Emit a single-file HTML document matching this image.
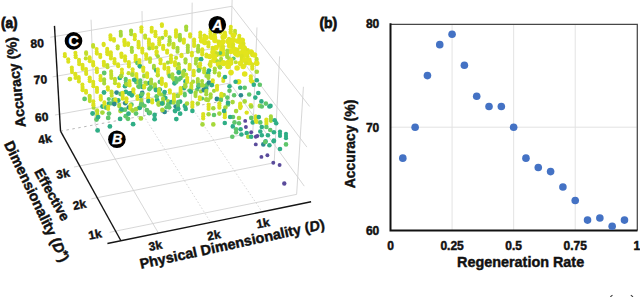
<!DOCTYPE html>
<html><head><meta charset="utf-8"><style>
html,body{margin:0;padding:0;background:#fff;width:640px;height:297px;overflow:hidden}
svg{display:block}
</style></head><body>
<svg width="640" height="297" viewBox="0 0 640 297">
<rect width="640" height="297" fill="#fff"/>
<g shape-rendering="geometricPrecision">
<polyline points="54.95,115.04 229.89,83.05" stroke="#d2d2d2" stroke-width="0.9" fill="none" />
<polyline points="52.66,76.88 230.91,45.37" stroke="#d2d2d2" stroke-width="0.9" fill="none" />
<polyline points="50.29,37.25 231.96,6.28" stroke="#d2d2d2" stroke-width="0.9" fill="none" />
<polyline points="95.23,124.71 91.04,19.71" stroke="#d2d2d2" stroke-width="0.9" fill="none" />
<polyline points="143.64,115.73 142.01,11.10" stroke="#d2d2d2" stroke-width="0.9" fill="none" />
<polyline points="191.31,106.88 192.16,2.64" stroke="#d2d2d2" stroke-width="0.9" fill="none" />
<polyline points="229.44,99.81 232.24,-4.13" stroke="#d2d2d2" stroke-width="0.9" fill="none" />
<polyline points="229.89,83.05 304.25,186.12" stroke="#d2d2d2" stroke-width="0.9" fill="none" />
<polyline points="230.91,45.37 306.86,147.08" stroke="#d2d2d2" stroke-width="0.9" fill="none" />
<polyline points="231.96,6.28 309.58,106.43" stroke="#d2d2d2" stroke-width="0.9" fill="none" />
<polyline points="252.84,132.75 256.97,27.46" stroke="#d2d2d2" stroke-width="0.9" fill="none" />
<polyline points="274.19,162.78 279.59,56.35" stroke="#d2d2d2" stroke-width="0.9" fill="none" />
<polyline points="296.63,194.36 303.43,86.81" stroke="#d2d2d2" stroke-width="0.9" fill="none" />
<polyline points="73.99,167.02 252.84,132.75" stroke="#d2d2d2" stroke-width="0.9" fill="none" />
<polyline points="91.36,198.84 274.19,162.78" stroke="#d2d2d2" stroke-width="0.9" fill="none" />
<polyline points="109.65,232.34 296.63,194.36" stroke="#d2d2d2" stroke-width="0.9" fill="none" />
<polyline points="60.52,131.16 229.44,99.81" stroke="#b0b0b0" stroke-width="0.9" fill="none" stroke-dasharray="2.5,3.5"/>
<polyline points="95.23,124.71 158.43,233.08" stroke="#d2d2d2" stroke-width="0.9" fill="none" />
<polyline points="143.64,115.73 210.68,222.38" stroke="#d2d2d2" stroke-width="0.9" fill="none" stroke-dasharray="1.5,2"/>
<polyline points="191.31,106.88 262.06,211.85" stroke="#d2d2d2" stroke-width="0.9" fill="none" stroke-dasharray="1.5,2"/>
<polyline points="60.52,131.16 54.47,25.88" stroke="#151515" stroke-width="1.4" fill="none" />
<polyline points="60.52,131.16 120.92,240.76" stroke="#151515" stroke-width="1.4" fill="none" />
<polyline points="107.43,243.52 311.09,201.81" stroke="#151515" stroke-width="1.4" fill="none" />
</g>
<g>
<circle cx="110.4" cy="35.4" r="2.05" fill="#dbe21f"/>
<circle cx="110.5" cy="37.5" r="2.05" fill="#dbe21f"/>
<circle cx="110.6" cy="39.5" r="2.05" fill="#dbe21f"/>
<circle cx="120.7" cy="31.7" r="2.05" fill="#a6d83a"/>
<circle cx="120.8" cy="34.0" r="2.05" fill="#a6d83a"/>
<circle cx="120.8" cy="35.8" r="2.05" fill="#a6d83a"/>
<circle cx="131.1" cy="30.5" r="2.05" fill="#a6d83a"/>
<circle cx="131.1" cy="31.8" r="2.05" fill="#a6d83a"/>
<circle cx="131.2" cy="34.3" r="2.05" fill="#a6d83a"/>
<circle cx="141.4" cy="27.3" r="2.05" fill="#dbe21f"/>
<circle cx="141.4" cy="29.5" r="2.05" fill="#dbe21f"/>
<circle cx="141.4" cy="31.8" r="2.05" fill="#dbe21f"/>
<circle cx="151.7" cy="27.8" r="2.05" fill="#dbe21f"/>
<circle cx="151.7" cy="30.0" r="2.05" fill="#dbe21f"/>
<circle cx="151.7" cy="31.8" r="2.05" fill="#dbe21f"/>
<circle cx="161.9" cy="24.2" r="2.05" fill="#dbe21f"/>
<circle cx="161.9" cy="25.9" r="2.05" fill="#dbe21f"/>
<circle cx="93.1" cy="45.0" r="2.05" fill="#c2de2b"/>
<circle cx="93.2" cy="46.8" r="2.05" fill="#c2de2b"/>
<circle cx="103.6" cy="43.9" r="2.05" fill="#dbe21f"/>
<circle cx="103.7" cy="45.1" r="2.05" fill="#dbe21f"/>
<circle cx="114.0" cy="39.0" r="2.05" fill="#dbe21f"/>
<circle cx="114.0" cy="40.7" r="2.05" fill="#dbe21f"/>
<circle cx="124.4" cy="39.7" r="2.05" fill="#dbe21f"/>
<circle cx="124.5" cy="41.2" r="2.05" fill="#dbe21f"/>
<circle cx="124.5" cy="42.8" r="2.05" fill="#dbe21f"/>
<circle cx="124.6" cy="45.1" r="2.05" fill="#dbe21f"/>
<circle cx="134.8" cy="34.8" r="2.05" fill="#dbe21f"/>
<circle cx="134.8" cy="36.6" r="2.05" fill="#dbe21f"/>
<circle cx="134.8" cy="39.2" r="2.05" fill="#dbe21f"/>
<circle cx="145.1" cy="35.5" r="2.05" fill="#c2de2b"/>
<circle cx="145.2" cy="37.7" r="2.05" fill="#c2de2b"/>
<circle cx="155.4" cy="31.8" r="2.05" fill="#dbe21f"/>
<circle cx="155.5" cy="34.3" r="2.05" fill="#dbe21f"/>
<circle cx="155.5" cy="36.2" r="2.05" fill="#dbe21f"/>
<circle cx="165.7" cy="31.6" r="2.05" fill="#dbe21f"/>
<circle cx="165.7" cy="33.2" r="2.05" fill="#dbe21f"/>
<circle cx="165.7" cy="35.1" r="2.05" fill="#dbe21f"/>
<circle cx="162.3" cy="37.8" r="2.1" fill="#a6d83a"/>
<circle cx="176.0" cy="30.4" r="2.05" fill="#dbe21f"/>
<circle cx="176.0" cy="32.5" r="2.05" fill="#dbe21f"/>
<circle cx="176.0" cy="34.7" r="2.05" fill="#dbe21f"/>
<circle cx="176.0" cy="36.8" r="2.05" fill="#dbe21f"/>
<circle cx="179.9" cy="38.1" r="2.1" fill="#c2de2b"/>
<circle cx="186.2" cy="26.5" r="2.05" fill="#a6d83a"/>
<circle cx="186.2" cy="27.8" r="2.05" fill="#a6d83a"/>
<circle cx="186.2" cy="29.9" r="2.05" fill="#a6d83a"/>
<circle cx="64.8" cy="54.1" r="2.05" fill="#dbe21f"/>
<circle cx="64.9" cy="56.2" r="2.05" fill="#dbe21f"/>
<circle cx="75.4" cy="52.8" r="2.05" fill="#dbe21f"/>
<circle cx="75.6" cy="55.3" r="2.05" fill="#dbe21f"/>
<circle cx="75.7" cy="57.3" r="2.05" fill="#dbe21f"/>
<circle cx="86.1" cy="52.4" r="2.05" fill="#c2de2b"/>
<circle cx="86.2" cy="53.9" r="2.05" fill="#c2de2b"/>
<circle cx="85.8" cy="58.4" r="2.1" fill="#c2de2b"/>
<circle cx="96.6" cy="49.0" r="2.05" fill="#dbe21f"/>
<circle cx="96.7" cy="51.7" r="2.05" fill="#dbe21f"/>
<circle cx="96.8" cy="53.6" r="2.05" fill="#dbe21f"/>
<circle cx="107.2" cy="48.9" r="2.05" fill="#dbe21f"/>
<circle cx="107.3" cy="50.9" r="2.05" fill="#dbe21f"/>
<circle cx="107.3" cy="52.2" r="2.05" fill="#dbe21f"/>
<circle cx="107.4" cy="54.3" r="2.05" fill="#dbe21f"/>
<circle cx="117.7" cy="46.2" r="2.05" fill="#c2de2b"/>
<circle cx="117.7" cy="48.4" r="2.05" fill="#c2de2b"/>
<circle cx="128.1" cy="43.2" r="2.05" fill="#dbe21f"/>
<circle cx="128.1" cy="45.0" r="2.05" fill="#dbe21f"/>
<circle cx="138.5" cy="41.9" r="2.05" fill="#dbe21f"/>
<circle cx="138.6" cy="43.9" r="2.05" fill="#dbe21f"/>
<circle cx="138.6" cy="45.6" r="2.05" fill="#dbe21f"/>
<circle cx="138.6" cy="47.4" r="2.05" fill="#dbe21f"/>
<circle cx="148.9" cy="39.6" r="2.05" fill="#dbe21f"/>
<circle cx="148.9" cy="41.7" r="2.05" fill="#dbe21f"/>
<circle cx="149.0" cy="43.5" r="2.05" fill="#dbe21f"/>
<circle cx="149.0" cy="45.9" r="2.05" fill="#dbe21f"/>
<circle cx="149.3" cy="48.4" r="2.1" fill="#a6d83a"/>
<circle cx="159.3" cy="38.3" r="2.05" fill="#dbe21f"/>
<circle cx="159.3" cy="40.3" r="2.05" fill="#dbe21f"/>
<circle cx="159.3" cy="42.5" r="2.05" fill="#dbe21f"/>
<circle cx="159.3" cy="44.5" r="2.05" fill="#dbe21f"/>
<circle cx="156.3" cy="47.6" r="2.1" fill="#c2de2b"/>
<circle cx="169.6" cy="37.2" r="2.05" fill="#a6d83a"/>
<circle cx="169.6" cy="39.7" r="2.05" fill="#a6d83a"/>
<circle cx="169.6" cy="41.3" r="2.05" fill="#a6d83a"/>
<circle cx="169.6" cy="43.6" r="2.05" fill="#a6d83a"/>
<circle cx="168.8" cy="44.7" r="2.1" fill="#c2de2b"/>
<circle cx="179.9" cy="34.9" r="2.05" fill="#a6d83a"/>
<circle cx="179.9" cy="37.3" r="2.05" fill="#a6d83a"/>
<circle cx="179.9" cy="39.3" r="2.05" fill="#a6d83a"/>
<circle cx="179.9" cy="40.5" r="2.05" fill="#a6d83a"/>
<circle cx="190.1" cy="34.3" r="2.05" fill="#dbe21f"/>
<circle cx="190.1" cy="36.6" r="2.05" fill="#dbe21f"/>
<circle cx="200.3" cy="32.6" r="2.05" fill="#dbe21f"/>
<circle cx="200.3" cy="35.0" r="2.05" fill="#dbe21f"/>
<circle cx="200.3" cy="37.2" r="2.05" fill="#dbe21f"/>
<circle cx="210.6" cy="29.0" r="2.05" fill="#dbe21f"/>
<circle cx="210.5" cy="31.3" r="2.05" fill="#dbe21f"/>
<circle cx="210.5" cy="33.2" r="2.05" fill="#dbe21f"/>
<circle cx="210.5" cy="35.1" r="2.05" fill="#dbe21f"/>
<circle cx="220.7" cy="29.2" r="2.05" fill="#dbe21f"/>
<circle cx="220.6" cy="30.6" r="2.05" fill="#dbe21f"/>
<circle cx="220.6" cy="32.6" r="2.05" fill="#dbe21f"/>
<circle cx="230.8" cy="26.7" r="2.05" fill="#dbe21f"/>
<circle cx="230.7" cy="29.3" r="2.05" fill="#dbe21f"/>
<circle cx="230.7" cy="31.3" r="2.05" fill="#dbe21f"/>
<circle cx="230.6" cy="32.8" r="2.05" fill="#dbe21f"/>
<circle cx="68.2" cy="59.2" r="2.05" fill="#dbe21f"/>
<circle cx="68.3" cy="61.8" r="2.05" fill="#dbe21f"/>
<circle cx="79.0" cy="59.9" r="2.05" fill="#dbe21f"/>
<circle cx="79.1" cy="62.1" r="2.05" fill="#dbe21f"/>
<circle cx="79.2" cy="64.3" r="2.05" fill="#dbe21f"/>
<circle cx="89.6" cy="57.4" r="2.05" fill="#dbe21f"/>
<circle cx="89.7" cy="59.4" r="2.05" fill="#dbe21f"/>
<circle cx="89.8" cy="61.2" r="2.05" fill="#dbe21f"/>
<circle cx="100.2" cy="54.8" r="2.05" fill="#dbe21f"/>
<circle cx="100.3" cy="57.1" r="2.05" fill="#dbe21f"/>
<circle cx="110.8" cy="52.4" r="2.05" fill="#dbe21f"/>
<circle cx="110.8" cy="54.4" r="2.05" fill="#dbe21f"/>
<circle cx="110.9" cy="56.3" r="2.05" fill="#dbe21f"/>
<circle cx="110.9" cy="58.5" r="2.05" fill="#dbe21f"/>
<circle cx="121.4" cy="53.6" r="2.05" fill="#dbe21f"/>
<circle cx="121.4" cy="54.9" r="2.05" fill="#dbe21f"/>
<circle cx="121.5" cy="57.0" r="2.05" fill="#dbe21f"/>
<circle cx="131.8" cy="47.7" r="2.05" fill="#a6d83a"/>
<circle cx="131.8" cy="50.5" r="2.05" fill="#a6d83a"/>
<circle cx="131.9" cy="51.9" r="2.05" fill="#a6d83a"/>
<circle cx="142.3" cy="48.5" r="2.05" fill="#dbe21f"/>
<circle cx="142.3" cy="50.4" r="2.05" fill="#dbe21f"/>
<circle cx="142.4" cy="52.6" r="2.05" fill="#dbe21f"/>
<circle cx="152.7" cy="44.4" r="2.05" fill="#dbe21f"/>
<circle cx="152.8" cy="46.9" r="2.05" fill="#dbe21f"/>
<circle cx="152.8" cy="48.2" r="2.05" fill="#dbe21f"/>
<circle cx="163.2" cy="45.7" r="2.05" fill="#dbe21f"/>
<circle cx="163.2" cy="47.6" r="2.05" fill="#dbe21f"/>
<circle cx="163.2" cy="49.0" r="2.05" fill="#dbe21f"/>
<circle cx="173.5" cy="43.9" r="2.05" fill="#c2de2b"/>
<circle cx="173.5" cy="45.5" r="2.05" fill="#c2de2b"/>
<circle cx="173.5" cy="47.4" r="2.05" fill="#c2de2b"/>
<circle cx="183.9" cy="39.5" r="2.05" fill="#dbe21f"/>
<circle cx="183.8" cy="41.1" r="2.05" fill="#dbe21f"/>
<circle cx="183.8" cy="42.7" r="2.05" fill="#dbe21f"/>
<circle cx="194.1" cy="39.6" r="2.05" fill="#dbe21f"/>
<circle cx="194.1" cy="41.6" r="2.05" fill="#dbe21f"/>
<circle cx="194.1" cy="44.0" r="2.05" fill="#dbe21f"/>
<circle cx="194.1" cy="46.0" r="2.05" fill="#dbe21f"/>
<circle cx="204.4" cy="35.6" r="2.05" fill="#dbe21f"/>
<circle cx="204.4" cy="37.5" r="2.05" fill="#dbe21f"/>
<circle cx="204.4" cy="39.8" r="2.05" fill="#dbe21f"/>
<circle cx="201.7" cy="40.7" r="2.8" fill="#e2e41c"/>
<circle cx="204.8" cy="42.5" r="2.8" fill="#e2e41c"/>
<circle cx="206.0" cy="37.5" r="2.8" fill="#e2e41c"/>
<circle cx="214.7" cy="34.2" r="2.05" fill="#dbe21f"/>
<circle cx="214.6" cy="36.2" r="2.05" fill="#dbe21f"/>
<circle cx="214.6" cy="37.7" r="2.05" fill="#dbe21f"/>
<circle cx="214.4" cy="37.5" r="2.8" fill="#e2e41c"/>
<circle cx="211.5" cy="37.1" r="2.8" fill="#e2e41c"/>
<circle cx="215.0" cy="40.5" r="2.8" fill="#e2e41c"/>
<circle cx="224.9" cy="32.5" r="2.05" fill="#dbe21f"/>
<circle cx="224.8" cy="34.5" r="2.05" fill="#dbe21f"/>
<circle cx="224.8" cy="37.0" r="2.05" fill="#dbe21f"/>
<circle cx="222.8" cy="41.8" r="2.8" fill="#e2e41c"/>
<circle cx="223.2" cy="37.0" r="2.8" fill="#e2e41c"/>
<circle cx="224.5" cy="35.5" r="2.8" fill="#e2e41c"/>
<circle cx="235.0" cy="30.9" r="2.05" fill="#c2de2b"/>
<circle cx="235.0" cy="33.5" r="2.05" fill="#c2de2b"/>
<circle cx="232.2" cy="40.6" r="2.8" fill="#e2e41c"/>
<circle cx="233.2" cy="40.1" r="2.8" fill="#e2e41c"/>
<circle cx="233.4" cy="35.2" r="2.8" fill="#e2e41c"/>
<circle cx="71.8" cy="67.6" r="2.05" fill="#dbe21f"/>
<circle cx="71.9" cy="69.8" r="2.05" fill="#dbe21f"/>
<circle cx="72.0" cy="72.1" r="2.05" fill="#dbe21f"/>
<circle cx="69.9" cy="79.1" r="2.4" fill="#c2de2b"/>
<circle cx="82.5" cy="64.9" r="2.05" fill="#dbe21f"/>
<circle cx="82.6" cy="67.0" r="2.05" fill="#dbe21f"/>
<circle cx="82.7" cy="68.9" r="2.05" fill="#dbe21f"/>
<circle cx="93.1" cy="62.0" r="2.05" fill="#dbe21f"/>
<circle cx="93.2" cy="64.1" r="2.05" fill="#dbe21f"/>
<circle cx="93.3" cy="65.4" r="2.05" fill="#dbe21f"/>
<circle cx="103.8" cy="61.7" r="2.05" fill="#dbe21f"/>
<circle cx="103.9" cy="63.8" r="2.05" fill="#dbe21f"/>
<circle cx="104.0" cy="65.5" r="2.05" fill="#dbe21f"/>
<circle cx="104.2" cy="73.0" r="2.4" fill="#5fc66a"/>
<circle cx="114.5" cy="59.1" r="2.05" fill="#dbe21f"/>
<circle cx="114.5" cy="61.6" r="2.05" fill="#dbe21f"/>
<circle cx="114.6" cy="63.2" r="2.05" fill="#dbe21f"/>
<circle cx="125.0" cy="56.3" r="2.05" fill="#dbe21f"/>
<circle cx="125.1" cy="58.7" r="2.05" fill="#dbe21f"/>
<circle cx="125.1" cy="60.7" r="2.05" fill="#dbe21f"/>
<circle cx="135.6" cy="55.7" r="2.05" fill="#dbe21f"/>
<circle cx="135.6" cy="58.1" r="2.05" fill="#dbe21f"/>
<circle cx="135.7" cy="59.5" r="2.05" fill="#dbe21f"/>
<circle cx="135.7" cy="61.3" r="2.05" fill="#dbe21f"/>
<circle cx="137.5" cy="63.1" r="2.4" fill="#5fc66a"/>
<circle cx="146.1" cy="54.3" r="2.05" fill="#dbe21f"/>
<circle cx="146.2" cy="56.1" r="2.05" fill="#dbe21f"/>
<circle cx="146.2" cy="58.7" r="2.05" fill="#dbe21f"/>
<circle cx="156.6" cy="51.3" r="2.05" fill="#dbe21f"/>
<circle cx="156.6" cy="52.5" r="2.05" fill="#dbe21f"/>
<circle cx="156.6" cy="54.4" r="2.05" fill="#dbe21f"/>
<circle cx="157.9" cy="56.3" r="2.1" fill="#a6d83a"/>
<circle cx="167.1" cy="50.6" r="2.05" fill="#dbe21f"/>
<circle cx="167.1" cy="52.8" r="2.05" fill="#dbe21f"/>
<circle cx="177.5" cy="47.7" r="2.05" fill="#a6d83a"/>
<circle cx="177.5" cy="49.4" r="2.05" fill="#a6d83a"/>
<circle cx="177.5" cy="51.7" r="2.05" fill="#a6d83a"/>
<circle cx="176.1" cy="57.9" r="2.1" fill="#c2de2b"/>
<circle cx="187.8" cy="45.6" r="2.05" fill="#a6d83a"/>
<circle cx="187.8" cy="47.6" r="2.05" fill="#a6d83a"/>
<circle cx="187.8" cy="49.9" r="2.05" fill="#a6d83a"/>
<circle cx="187.8" cy="52.0" r="2.05" fill="#a6d83a"/>
<circle cx="198.2" cy="45.9" r="2.05" fill="#a6d83a"/>
<circle cx="198.1" cy="48.4" r="2.05" fill="#a6d83a"/>
<circle cx="198.1" cy="50.5" r="2.05" fill="#a6d83a"/>
<circle cx="198.1" cy="51.8" r="2.05" fill="#a6d83a"/>
<circle cx="197.3" cy="59.2" r="2.1" fill="#a6d83a"/>
<circle cx="208.5" cy="42.4" r="2.05" fill="#dbe21f"/>
<circle cx="208.5" cy="44.4" r="2.05" fill="#dbe21f"/>
<circle cx="208.4" cy="46.5" r="2.05" fill="#dbe21f"/>
<circle cx="218.8" cy="41.5" r="2.05" fill="#dbe21f"/>
<circle cx="218.7" cy="43.6" r="2.05" fill="#dbe21f"/>
<circle cx="218.7" cy="45.5" r="2.05" fill="#dbe21f"/>
<circle cx="216.0" cy="47.8" r="2.8" fill="#e2e41c"/>
<circle cx="222.0" cy="48.9" r="2.8" fill="#e2e41c"/>
<circle cx="221.2" cy="45.0" r="2.8" fill="#e2e41c"/>
<circle cx="229.0" cy="38.7" r="2.05" fill="#dbe21f"/>
<circle cx="229.0" cy="40.9" r="2.05" fill="#dbe21f"/>
<circle cx="228.9" cy="43.6" r="2.05" fill="#dbe21f"/>
<circle cx="229.8" cy="45.9" r="2.8" fill="#e2e41c"/>
<circle cx="230.3" cy="42.7" r="2.8" fill="#e2e41c"/>
<circle cx="228.1" cy="41.3" r="2.8" fill="#e2e41c"/>
<circle cx="239.3" cy="35.7" r="2.05" fill="#dbe21f"/>
<circle cx="239.2" cy="38.0" r="2.05" fill="#dbe21f"/>
<circle cx="237.7" cy="41.0" r="2.8" fill="#e2e41c"/>
<circle cx="240.6" cy="41.9" r="2.8" fill="#e2e41c"/>
<circle cx="242.2" cy="40.4" r="2.8" fill="#e2e41c"/>
<circle cx="75.3" cy="73.9" r="2.05" fill="#dbe21f"/>
<circle cx="75.4" cy="75.1" r="2.05" fill="#dbe21f"/>
<circle cx="75.5" cy="77.9" r="2.05" fill="#dbe21f"/>
<circle cx="86.0" cy="69.1" r="2.05" fill="#dbe21f"/>
<circle cx="86.1" cy="71.7" r="2.05" fill="#dbe21f"/>
<circle cx="86.2" cy="73.9" r="2.05" fill="#dbe21f"/>
<circle cx="96.8" cy="68.6" r="2.05" fill="#dbe21f"/>
<circle cx="96.8" cy="70.6" r="2.05" fill="#dbe21f"/>
<circle cx="96.9" cy="72.3" r="2.05" fill="#dbe21f"/>
<circle cx="107.4" cy="65.0" r="2.05" fill="#c2de2b"/>
<circle cx="107.5" cy="67.2" r="2.05" fill="#c2de2b"/>
<circle cx="118.1" cy="64.4" r="2.05" fill="#dbe21f"/>
<circle cx="118.2" cy="66.3" r="2.05" fill="#dbe21f"/>
<circle cx="128.8" cy="62.0" r="2.05" fill="#dbe21f"/>
<circle cx="128.8" cy="64.3" r="2.05" fill="#dbe21f"/>
<circle cx="128.9" cy="66.5" r="2.05" fill="#dbe21f"/>
<circle cx="128.6" cy="73.2" r="2.1" fill="#c2de2b"/>
<circle cx="139.4" cy="60.1" r="2.05" fill="#dbe21f"/>
<circle cx="139.4" cy="62.6" r="2.05" fill="#dbe21f"/>
<circle cx="139.5" cy="64.5" r="2.05" fill="#dbe21f"/>
<circle cx="139.9" cy="66.3" r="2.4" fill="#2fae86"/>
<circle cx="150.0" cy="58.3" r="2.05" fill="#c2de2b"/>
<circle cx="150.0" cy="59.5" r="2.05" fill="#c2de2b"/>
<circle cx="150.0" cy="62.0" r="2.05" fill="#c2de2b"/>
<circle cx="160.5" cy="59.5" r="2.05" fill="#dbe21f"/>
<circle cx="160.5" cy="60.8" r="2.05" fill="#dbe21f"/>
<circle cx="160.5" cy="63.3" r="2.05" fill="#dbe21f"/>
<circle cx="171.0" cy="55.6" r="2.05" fill="#dbe21f"/>
<circle cx="171.0" cy="58.2" r="2.05" fill="#dbe21f"/>
<circle cx="171.0" cy="59.9" r="2.05" fill="#dbe21f"/>
<circle cx="171.0" cy="62.1" r="2.05" fill="#dbe21f"/>
<circle cx="167.9" cy="62.6" r="2.1" fill="#a6d83a"/>
<circle cx="181.5" cy="54.9" r="2.05" fill="#dbe21f"/>
<circle cx="181.5" cy="56.2" r="2.05" fill="#dbe21f"/>
<circle cx="178.6" cy="64.2" r="2.1" fill="#a6d83a"/>
<circle cx="191.9" cy="52.8" r="2.05" fill="#dbe21f"/>
<circle cx="191.9" cy="55.4" r="2.05" fill="#dbe21f"/>
<circle cx="202.3" cy="49.2" r="2.05" fill="#dbe21f"/>
<circle cx="202.3" cy="50.6" r="2.05" fill="#dbe21f"/>
<circle cx="202.2" cy="52.4" r="2.05" fill="#dbe21f"/>
<circle cx="202.2" cy="54.6" r="2.05" fill="#dbe21f"/>
<circle cx="201.1" cy="59.2" r="2.4" fill="#2fae86"/>
<circle cx="212.6" cy="47.7" r="2.05" fill="#dbe21f"/>
<circle cx="212.6" cy="49.9" r="2.05" fill="#dbe21f"/>
<circle cx="212.6" cy="51.7" r="2.05" fill="#dbe21f"/>
<circle cx="214.3" cy="52.7" r="2.8" fill="#e2e41c"/>
<circle cx="209.6" cy="56.5" r="2.8" fill="#e2e41c"/>
<circle cx="213.1" cy="52.5" r="2.8" fill="#e2e41c"/>
<circle cx="223.0" cy="46.3" r="2.05" fill="#dbe21f"/>
<circle cx="222.9" cy="48.2" r="2.05" fill="#dbe21f"/>
<circle cx="222.9" cy="50.7" r="2.05" fill="#dbe21f"/>
<circle cx="220.6" cy="54.0" r="2.8" fill="#e2e41c"/>
<circle cx="222.7" cy="53.8" r="2.8" fill="#e2e41c"/>
<circle cx="221.7" cy="52.0" r="2.8" fill="#e2e41c"/>
<circle cx="220.2" cy="53.1" r="2.1" fill="#5fc66a"/>
<circle cx="233.2" cy="44.6" r="2.05" fill="#dbe21f"/>
<circle cx="233.2" cy="47.1" r="2.05" fill="#dbe21f"/>
<circle cx="233.1" cy="48.9" r="2.05" fill="#dbe21f"/>
<circle cx="230.9" cy="51.3" r="2.8" fill="#e2e41c"/>
<circle cx="235.4" cy="52.8" r="2.8" fill="#e2e41c"/>
<circle cx="235.2" cy="49.7" r="2.8" fill="#e2e41c"/>
<circle cx="243.5" cy="43.6" r="2.05" fill="#dbe21f"/>
<circle cx="243.4" cy="45.5" r="2.05" fill="#dbe21f"/>
<circle cx="243.3" cy="48.3" r="2.05" fill="#dbe21f"/>
<circle cx="243.3" cy="50.0" r="2.05" fill="#dbe21f"/>
<circle cx="240.8" cy="46.6" r="2.8" fill="#e2e41c"/>
<circle cx="244.3" cy="48.3" r="2.8" fill="#e2e41c"/>
<circle cx="243.0" cy="51.6" r="2.8" fill="#e2e41c"/>
<circle cx="78.7" cy="77.0" r="2.05" fill="#dbe21f"/>
<circle cx="78.8" cy="78.8" r="2.05" fill="#dbe21f"/>
<circle cx="78.9" cy="81.4" r="2.05" fill="#dbe21f"/>
<circle cx="89.7" cy="77.5" r="2.05" fill="#dbe21f"/>
<circle cx="89.7" cy="79.2" r="2.05" fill="#dbe21f"/>
<circle cx="89.8" cy="81.2" r="2.05" fill="#dbe21f"/>
<circle cx="100.5" cy="76.1" r="2.05" fill="#dbe21f"/>
<circle cx="100.6" cy="78.5" r="2.05" fill="#dbe21f"/>
<circle cx="100.6" cy="80.3" r="2.05" fill="#dbe21f"/>
<circle cx="111.1" cy="71.4" r="2.05" fill="#c2de2b"/>
<circle cx="111.2" cy="74.1" r="2.05" fill="#c2de2b"/>
<circle cx="111.3" cy="75.7" r="2.05" fill="#c2de2b"/>
<circle cx="111.3" cy="78.0" r="2.05" fill="#c2de2b"/>
<circle cx="121.9" cy="69.6" r="2.05" fill="#dbe21f"/>
<circle cx="121.9" cy="72.5" r="2.05" fill="#dbe21f"/>
<circle cx="122.0" cy="73.8" r="2.05" fill="#dbe21f"/>
<circle cx="119.8" cy="77.9" r="2.4" fill="#2fae86"/>
<circle cx="121.1" cy="76.2" r="2.4" fill="#a6d83a"/>
<circle cx="132.6" cy="69.2" r="2.05" fill="#dbe21f"/>
<circle cx="132.7" cy="71.9" r="2.05" fill="#dbe21f"/>
<circle cx="132.4" cy="74.7" r="2.4" fill="#a6d83a"/>
<circle cx="143.3" cy="67.6" r="2.05" fill="#dbe21f"/>
<circle cx="143.3" cy="69.1" r="2.05" fill="#dbe21f"/>
<circle cx="143.3" cy="71.1" r="2.05" fill="#dbe21f"/>
<circle cx="144.4" cy="75.9" r="2.4" fill="#a6d83a"/>
<circle cx="153.9" cy="65.9" r="2.05" fill="#a6d83a"/>
<circle cx="153.9" cy="67.9" r="2.05" fill="#a6d83a"/>
<circle cx="156.3" cy="70.4" r="2.4" fill="#2fae86"/>
<circle cx="164.4" cy="64.6" r="2.05" fill="#dbe21f"/>
<circle cx="164.5" cy="67.0" r="2.05" fill="#dbe21f"/>
<circle cx="164.5" cy="68.6" r="2.05" fill="#dbe21f"/>
<circle cx="175.0" cy="62.1" r="2.05" fill="#dbe21f"/>
<circle cx="175.0" cy="63.5" r="2.05" fill="#dbe21f"/>
<circle cx="175.0" cy="65.5" r="2.05" fill="#dbe21f"/>
<circle cx="177.7" cy="68.7" r="2.1" fill="#a6d83a"/>
<circle cx="185.5" cy="59.2" r="2.05" fill="#a6d83a"/>
<circle cx="185.5" cy="60.8" r="2.05" fill="#a6d83a"/>
<circle cx="185.5" cy="62.6" r="2.05" fill="#a6d83a"/>
<circle cx="184.2" cy="70.7" r="2.1" fill="#5fc66a"/>
<circle cx="196.0" cy="58.8" r="2.05" fill="#a6d83a"/>
<circle cx="195.9" cy="61.0" r="2.05" fill="#a6d83a"/>
<circle cx="195.9" cy="63.6" r="2.05" fill="#a6d83a"/>
<circle cx="198.5" cy="66.6" r="2.1" fill="#a6d83a"/>
<circle cx="206.4" cy="54.5" r="2.05" fill="#dbe21f"/>
<circle cx="206.4" cy="56.4" r="2.05" fill="#dbe21f"/>
<circle cx="209.7" cy="64.4" r="2.1" fill="#c2de2b"/>
<circle cx="216.8" cy="53.2" r="2.05" fill="#c2de2b"/>
<circle cx="216.8" cy="55.2" r="2.05" fill="#c2de2b"/>
<circle cx="214.4" cy="56.3" r="2.8" fill="#e2e41c"/>
<circle cx="214.0" cy="60.1" r="2.8" fill="#e2e41c"/>
<circle cx="215.1" cy="60.4" r="2.8" fill="#e2e41c"/>
<circle cx="217.6" cy="61.3" r="2.1" fill="#a6d83a"/>
<circle cx="227.2" cy="50.6" r="2.05" fill="#a6d83a"/>
<circle cx="227.2" cy="53.0" r="2.05" fill="#a6d83a"/>
<circle cx="227.1" cy="55.2" r="2.05" fill="#a6d83a"/>
<circle cx="227.1" cy="57.0" r="2.05" fill="#a6d83a"/>
<circle cx="228.6" cy="58.1" r="2.1" fill="#a6d83a"/>
<circle cx="237.5" cy="49.6" r="2.05" fill="#dbe21f"/>
<circle cx="237.5" cy="51.8" r="2.05" fill="#dbe21f"/>
<circle cx="237.4" cy="53.5" r="2.05" fill="#dbe21f"/>
<circle cx="236.2" cy="53.4" r="2.8" fill="#e2e41c"/>
<circle cx="239.4" cy="53.4" r="2.8" fill="#e2e41c"/>
<circle cx="237.5" cy="54.6" r="2.8" fill="#e2e41c"/>
<circle cx="233.6" cy="58.5" r="2.1" fill="#5fc66a"/>
<circle cx="247.8" cy="50.1" r="2.05" fill="#dbe21f"/>
<circle cx="247.7" cy="51.6" r="2.05" fill="#dbe21f"/>
<circle cx="247.6" cy="53.4" r="2.05" fill="#dbe21f"/>
<circle cx="247.5" cy="56.3" r="2.05" fill="#dbe21f"/>
<circle cx="251.0" cy="52.0" r="2.8" fill="#e2e41c"/>
<circle cx="244.3" cy="55.1" r="2.8" fill="#e2e41c"/>
<circle cx="245.7" cy="53.2" r="2.8" fill="#e2e41c"/>
<circle cx="82.4" cy="84.6" r="2.05" fill="#dbe21f"/>
<circle cx="82.5" cy="86.9" r="2.05" fill="#dbe21f"/>
<circle cx="82.6" cy="88.9" r="2.05" fill="#dbe21f"/>
<circle cx="82.6" cy="90.2" r="2.05" fill="#dbe21f"/>
<circle cx="93.2" cy="81.8" r="2.05" fill="#dbe21f"/>
<circle cx="93.3" cy="83.9" r="2.05" fill="#dbe21f"/>
<circle cx="93.4" cy="86.2" r="2.05" fill="#dbe21f"/>
<circle cx="104.1" cy="79.3" r="2.05" fill="#a6d83a"/>
<circle cx="104.1" cy="81.1" r="2.05" fill="#a6d83a"/>
<circle cx="104.2" cy="83.4" r="2.05" fill="#a6d83a"/>
<circle cx="104.0" cy="92.5" r="2.4" fill="#2fae86"/>
<circle cx="114.9" cy="78.9" r="2.05" fill="#c2de2b"/>
<circle cx="115.0" cy="80.8" r="2.05" fill="#c2de2b"/>
<circle cx="115.0" cy="83.2" r="2.05" fill="#c2de2b"/>
<circle cx="125.7" cy="78.7" r="2.05" fill="#5fc66a"/>
<circle cx="125.8" cy="80.2" r="2.05" fill="#5fc66a"/>
<circle cx="125.8" cy="82.7" r="2.05" fill="#5fc66a"/>
<circle cx="125.9" cy="84.9" r="2.05" fill="#5fc66a"/>
<circle cx="125.0" cy="86.2" r="2.4" fill="#2fae86"/>
<circle cx="125.8" cy="91.9" r="2.4" fill="#2fae86"/>
<circle cx="126.6" cy="84.3" r="2.4" fill="#a6d83a"/>
<circle cx="136.4" cy="74.0" r="2.05" fill="#dbe21f"/>
<circle cx="136.4" cy="75.9" r="2.05" fill="#dbe21f"/>
<circle cx="136.5" cy="78.3" r="2.05" fill="#dbe21f"/>
<circle cx="136.5" cy="80.1" r="2.05" fill="#dbe21f"/>
<circle cx="138.1" cy="86.2" r="2.1" fill="#a6d83a"/>
<circle cx="136.3" cy="82.0" r="2.4" fill="#5fc66a"/>
<circle cx="138.6" cy="81.9" r="2.4" fill="#a6d83a"/>
<circle cx="134.2" cy="79.8" r="2.4" fill="#2fae86"/>
<circle cx="147.1" cy="73.3" r="2.05" fill="#dbe21f"/>
<circle cx="147.2" cy="75.1" r="2.05" fill="#dbe21f"/>
<circle cx="147.2" cy="76.9" r="2.05" fill="#dbe21f"/>
<circle cx="145.5" cy="82.6" r="2.1" fill="#a6d83a"/>
<circle cx="146.7" cy="83.6" r="2.4" fill="#a6d83a"/>
<circle cx="149.7" cy="83.0" r="2.4" fill="#2fae86"/>
<circle cx="157.8" cy="69.4" r="2.05" fill="#dbe21f"/>
<circle cx="157.8" cy="71.6" r="2.05" fill="#dbe21f"/>
<circle cx="157.8" cy="73.8" r="2.05" fill="#dbe21f"/>
<circle cx="157.8" cy="75.3" r="2.05" fill="#dbe21f"/>
<circle cx="157.7" cy="75.5" r="2.1" fill="#c2de2b"/>
<circle cx="159.9" cy="81.9" r="2.4" fill="#5fc66a"/>
<circle cx="168.4" cy="67.8" r="2.05" fill="#dbe21f"/>
<circle cx="168.4" cy="70.2" r="2.05" fill="#dbe21f"/>
<circle cx="168.4" cy="72.0" r="2.05" fill="#dbe21f"/>
<circle cx="168.4" cy="74.0" r="2.05" fill="#dbe21f"/>
<circle cx="169.7" cy="76.0" r="2.4" fill="#5fc66a"/>
<circle cx="179.0" cy="67.1" r="2.05" fill="#c2de2b"/>
<circle cx="179.0" cy="68.9" r="2.05" fill="#c2de2b"/>
<circle cx="179.0" cy="71.1" r="2.05" fill="#c2de2b"/>
<circle cx="179.0" cy="73.1" r="2.05" fill="#c2de2b"/>
<circle cx="175.9" cy="78.1" r="2.1" fill="#5fc66a"/>
<circle cx="178.7" cy="72.5" r="2.4" fill="#2fae86"/>
<circle cx="189.6" cy="64.9" r="2.05" fill="#dbe21f"/>
<circle cx="189.6" cy="67.1" r="2.05" fill="#dbe21f"/>
<circle cx="189.5" cy="69.1" r="2.05" fill="#dbe21f"/>
<circle cx="186.1" cy="74.6" r="2.1" fill="#c2de2b"/>
<circle cx="200.1" cy="63.5" r="2.05" fill="#dbe21f"/>
<circle cx="200.1" cy="65.3" r="2.05" fill="#dbe21f"/>
<circle cx="200.0" cy="68.2" r="2.05" fill="#dbe21f"/>
<circle cx="198.8" cy="70.5" r="2.4" fill="#5fc66a"/>
<circle cx="210.6" cy="61.7" r="2.05" fill="#dbe21f"/>
<circle cx="210.5" cy="63.5" r="2.05" fill="#dbe21f"/>
<circle cx="210.5" cy="65.9" r="2.05" fill="#dbe21f"/>
<circle cx="208.0" cy="73.4" r="2.4" fill="#2fae86"/>
<circle cx="208.9" cy="70.6" r="2.4" fill="#2fae86"/>
<circle cx="221.1" cy="58.8" r="2.05" fill="#a6d83a"/>
<circle cx="221.0" cy="61.4" r="2.05" fill="#a6d83a"/>
<circle cx="221.0" cy="62.9" r="2.05" fill="#a6d83a"/>
<circle cx="223.4" cy="62.7" r="2.8" fill="#e2e41c"/>
<circle cx="218.6" cy="64.2" r="2.8" fill="#e2e41c"/>
<circle cx="223.5" cy="63.5" r="2.8" fill="#e2e41c"/>
<circle cx="220.0" cy="67.3" r="2.4" fill="#a6d83a"/>
<circle cx="231.4" cy="59.6" r="2.05" fill="#dbe21f"/>
<circle cx="231.3" cy="61.4" r="2.05" fill="#dbe21f"/>
<circle cx="231.3" cy="63.6" r="2.05" fill="#dbe21f"/>
<circle cx="228.1" cy="62.5" r="2.8" fill="#e2e41c"/>
<circle cx="229.3" cy="63.4" r="2.8" fill="#e2e41c"/>
<circle cx="241.8" cy="55.9" r="2.05" fill="#dbe21f"/>
<circle cx="241.8" cy="58.0" r="2.05" fill="#dbe21f"/>
<circle cx="241.7" cy="59.9" r="2.05" fill="#dbe21f"/>
<circle cx="240.5" cy="63.3" r="2.8" fill="#e2e41c"/>
<circle cx="244.9" cy="60.1" r="2.8" fill="#e2e41c"/>
<circle cx="252.2" cy="52.9" r="2.05" fill="#dbe21f"/>
<circle cx="252.1" cy="55.1" r="2.05" fill="#dbe21f"/>
<circle cx="248.8" cy="60.1" r="2.8" fill="#e2e41c"/>
<circle cx="254.5" cy="55.0" r="2.8" fill="#e2e41c"/>
<circle cx="249.4" cy="62.6" r="2.8" fill="#e2e41c"/>
<circle cx="86.0" cy="90.9" r="2.05" fill="#dbe21f"/>
<circle cx="86.1" cy="92.7" r="2.05" fill="#dbe21f"/>
<circle cx="84.6" cy="98.9" r="2.4" fill="#5fc66a"/>
<circle cx="96.9" cy="87.7" r="2.05" fill="#dbe21f"/>
<circle cx="97.0" cy="89.4" r="2.05" fill="#dbe21f"/>
<circle cx="97.0" cy="91.9" r="2.05" fill="#dbe21f"/>
<circle cx="107.8" cy="87.2" r="2.05" fill="#dbe21f"/>
<circle cx="107.9" cy="89.6" r="2.05" fill="#dbe21f"/>
<circle cx="108.8" cy="99.0" r="2.1" fill="#5fc66a"/>
<circle cx="109.0" cy="103.6" r="2.4" fill="#2fae86"/>
<circle cx="118.7" cy="84.3" r="2.05" fill="#dbe21f"/>
<circle cx="118.7" cy="86.2" r="2.05" fill="#dbe21f"/>
<circle cx="118.3" cy="100.5" r="2.4" fill="#2fae86"/>
<circle cx="116.6" cy="92.6" r="2.4" fill="#2d8a8c"/>
<circle cx="120.6" cy="94.0" r="2.4" fill="#5fc66a"/>
<circle cx="129.5" cy="81.1" r="2.05" fill="#dbe21f"/>
<circle cx="129.5" cy="83.5" r="2.05" fill="#dbe21f"/>
<circle cx="129.6" cy="85.5" r="2.05" fill="#dbe21f"/>
<circle cx="131.5" cy="93.2" r="2.4" fill="#2d8a8c"/>
<circle cx="129.1" cy="93.5" r="2.4" fill="#2fae86"/>
<circle cx="140.3" cy="80.4" r="2.05" fill="#5fc66a"/>
<circle cx="140.3" cy="82.6" r="2.05" fill="#5fc66a"/>
<circle cx="140.4" cy="84.4" r="2.05" fill="#5fc66a"/>
<circle cx="140.7" cy="96.0" r="2.4" fill="#2fae86"/>
<circle cx="142.5" cy="86.9" r="2.4" fill="#2fae86"/>
<circle cx="139.0" cy="86.8" r="2.4" fill="#5fc66a"/>
<circle cx="151.1" cy="79.5" r="2.05" fill="#a6d83a"/>
<circle cx="151.1" cy="81.9" r="2.05" fill="#a6d83a"/>
<circle cx="151.1" cy="83.9" r="2.05" fill="#a6d83a"/>
<circle cx="150.7" cy="87.5" r="2.4" fill="#5fc66a"/>
<circle cx="149.4" cy="89.1" r="2.4" fill="#5fc66a"/>
<circle cx="161.8" cy="78.5" r="2.05" fill="#dbe21f"/>
<circle cx="161.8" cy="80.7" r="2.05" fill="#dbe21f"/>
<circle cx="161.8" cy="82.5" r="2.05" fill="#dbe21f"/>
<circle cx="161.8" cy="84.1" r="2.05" fill="#dbe21f"/>
<circle cx="159.7" cy="89.6" r="2.4" fill="#2fae86"/>
<circle cx="172.4" cy="74.2" r="2.05" fill="#a6d83a"/>
<circle cx="172.4" cy="76.5" r="2.05" fill="#a6d83a"/>
<circle cx="172.5" cy="78.0" r="2.05" fill="#a6d83a"/>
<circle cx="174.2" cy="80.2" r="2.1" fill="#a6d83a"/>
<circle cx="174.5" cy="83.3" r="2.4" fill="#2fae86"/>
<circle cx="183.1" cy="71.9" r="2.05" fill="#a6d83a"/>
<circle cx="183.1" cy="74.1" r="2.05" fill="#a6d83a"/>
<circle cx="183.1" cy="75.9" r="2.05" fill="#a6d83a"/>
<circle cx="179.0" cy="79.7" r="2.1" fill="#5fc66a"/>
<circle cx="185.5" cy="81.4" r="2.4" fill="#2fae86"/>
<circle cx="184.0" cy="88.0" r="2.4" fill="#2fae86"/>
<circle cx="180.5" cy="78.1" r="2.4" fill="#5fc66a"/>
<circle cx="193.7" cy="70.9" r="2.05" fill="#dbe21f"/>
<circle cx="193.7" cy="72.7" r="2.05" fill="#dbe21f"/>
<circle cx="193.7" cy="75.2" r="2.05" fill="#dbe21f"/>
<circle cx="193.1" cy="81.7" r="2.1" fill="#a6d83a"/>
<circle cx="204.3" cy="68.6" r="2.05" fill="#c2de2b"/>
<circle cx="204.2" cy="70.6" r="2.05" fill="#c2de2b"/>
<circle cx="204.2" cy="72.5" r="2.05" fill="#c2de2b"/>
<circle cx="206.4" cy="75.9" r="2.1" fill="#a6d83a"/>
<circle cx="214.8" cy="68.5" r="2.05" fill="#a6d83a"/>
<circle cx="214.7" cy="70.2" r="2.05" fill="#a6d83a"/>
<circle cx="214.7" cy="72.4" r="2.05" fill="#a6d83a"/>
<circle cx="235.8" cy="62.2" r="2.05" fill="#c2de2b"/>
<circle cx="246.1" cy="63.5" r="2.05" fill="#dbe21f"/>
<circle cx="256.6" cy="58.9" r="2.05" fill="#c2de2b"/>
<circle cx="256.6" cy="60.1" r="2.05" fill="#c2de2b"/>
<circle cx="256.5" cy="62.8" r="2.05" fill="#c2de2b"/>
<circle cx="256.7" cy="63.3" r="2.8" fill="#e2e41c"/>
<circle cx="89.6" cy="95.7" r="2.05" fill="#c2de2b"/>
<circle cx="89.7" cy="97.1" r="2.05" fill="#c2de2b"/>
<circle cx="89.7" cy="99.1" r="2.05" fill="#c2de2b"/>
<circle cx="89.8" cy="101.1" r="2.05" fill="#c2de2b"/>
<circle cx="93.6" cy="107.7" r="2.1" fill="#a6d83a"/>
<circle cx="100.7" cy="96.0" r="2.05" fill="#dbe21f"/>
<circle cx="100.7" cy="97.7" r="2.05" fill="#dbe21f"/>
<circle cx="100.8" cy="99.6" r="2.05" fill="#dbe21f"/>
<circle cx="102.5" cy="106.5" r="2.4" fill="#2fae86"/>
<circle cx="111.5" cy="91.5" r="2.05" fill="#c2de2b"/>
<circle cx="111.6" cy="93.3" r="2.05" fill="#c2de2b"/>
<circle cx="111.7" cy="95.8" r="2.05" fill="#c2de2b"/>
<circle cx="111.2" cy="103.3" r="2.1" fill="#5fc66a"/>
<circle cx="113.6" cy="100.0" r="2.4" fill="#5fc66a"/>
<circle cx="122.6" cy="92.7" r="2.05" fill="#dbe21f"/>
<circle cx="122.6" cy="94.7" r="2.05" fill="#dbe21f"/>
<circle cx="122.7" cy="96.7" r="2.05" fill="#dbe21f"/>
<circle cx="122.7" cy="98.8" r="2.05" fill="#dbe21f"/>
<circle cx="125.3" cy="103.2" r="2.4" fill="#2d8a8c"/>
<circle cx="122.0" cy="110.1" r="2.4" fill="#5fc66a"/>
<circle cx="125.0" cy="109.7" r="2.4" fill="#5fc66a"/>
<circle cx="133.4" cy="89.3" r="2.05" fill="#dbe21f"/>
<circle cx="133.4" cy="90.7" r="2.05" fill="#dbe21f"/>
<circle cx="133.5" cy="93.2" r="2.05" fill="#dbe21f"/>
<circle cx="131.4" cy="104.7" r="2.4" fill="#5fc66a"/>
<circle cx="131.8" cy="95.3" r="2.4" fill="#2fae86"/>
<circle cx="144.2" cy="85.9" r="2.05" fill="#dbe21f"/>
<circle cx="144.2" cy="87.5" r="2.05" fill="#dbe21f"/>
<circle cx="142.2" cy="93.0" r="2.4" fill="#2d8a8c"/>
<circle cx="142.0" cy="94.1" r="2.4" fill="#5fc66a"/>
<circle cx="142.1" cy="104.3" r="2.4" fill="#2fae86"/>
<circle cx="155.0" cy="84.4" r="2.05" fill="#a6d83a"/>
<circle cx="155.0" cy="86.6" r="2.05" fill="#a6d83a"/>
<circle cx="155.1" cy="88.1" r="2.05" fill="#a6d83a"/>
<circle cx="157.1" cy="100.1" r="2.4" fill="#2fae86"/>
<circle cx="156.7" cy="96.5" r="2.4" fill="#5fc66a"/>
<circle cx="155.9" cy="90.0" r="2.4" fill="#2fae86"/>
<circle cx="165.8" cy="84.0" r="2.05" fill="#dbe21f"/>
<circle cx="165.8" cy="86.1" r="2.05" fill="#dbe21f"/>
<circle cx="163.7" cy="94.3" r="2.4" fill="#5fc66a"/>
<circle cx="164.6" cy="92.1" r="2.4" fill="#2fae86"/>
<circle cx="165.3" cy="98.1" r="2.4" fill="#2fae86"/>
<circle cx="176.5" cy="79.8" r="2.05" fill="#5fc66a"/>
<circle cx="176.5" cy="82.0" r="2.05" fill="#5fc66a"/>
<circle cx="177.7" cy="95.7" r="2.4" fill="#5fc66a"/>
<circle cx="187.2" cy="77.8" r="2.05" fill="#dbe21f"/>
<circle cx="187.2" cy="79.9" r="2.05" fill="#dbe21f"/>
<circle cx="187.2" cy="81.9" r="2.05" fill="#dbe21f"/>
<circle cx="185.3" cy="84.6" r="2.1" fill="#a6d83a"/>
<circle cx="185.3" cy="86.4" r="2.4" fill="#a6d83a"/>
<circle cx="197.8" cy="79.1" r="2.05" fill="#a6d83a"/>
<circle cx="197.8" cy="81.1" r="2.05" fill="#a6d83a"/>
<circle cx="197.8" cy="82.6" r="2.05" fill="#a6d83a"/>
<circle cx="197.2" cy="89.6" r="2.1" fill="#5fc66a"/>
<circle cx="198.5" cy="86.6" r="2.4" fill="#2fae86"/>
<circle cx="198.7" cy="85.1" r="2.4" fill="#5fc66a"/>
<circle cx="208.5" cy="75.7" r="2.05" fill="#a6d83a"/>
<circle cx="208.4" cy="78.1" r="2.05" fill="#a6d83a"/>
<circle cx="204.5" cy="85.9" r="2.1" fill="#a6d83a"/>
<circle cx="207.3" cy="84.6" r="2.4" fill="#5fc66a"/>
<circle cx="208.9" cy="82.7" r="2.4" fill="#2d8a8c"/>
<circle cx="206.2" cy="88.7" r="2.4" fill="#2fae86"/>
<circle cx="219.1" cy="73.2" r="2.05" fill="#c2de2b"/>
<circle cx="219.0" cy="75.6" r="2.05" fill="#c2de2b"/>
<circle cx="93.3" cy="101.3" r="2.05" fill="#dbe21f"/>
<circle cx="93.4" cy="103.7" r="2.05" fill="#dbe21f"/>
<circle cx="93.4" cy="105.3" r="2.05" fill="#dbe21f"/>
<circle cx="92.6" cy="113.5" r="2.4" fill="#2fae86"/>
<circle cx="96.5" cy="119.5" r="2.4" fill="#5fc66a"/>
<circle cx="104.4" cy="102.4" r="2.05" fill="#dbe21f"/>
<circle cx="104.5" cy="104.4" r="2.05" fill="#dbe21f"/>
<circle cx="104.6" cy="106.5" r="2.05" fill="#dbe21f"/>
<circle cx="106.2" cy="107.7" r="2.4" fill="#5fc66a"/>
<circle cx="102.4" cy="112.6" r="2.4" fill="#a6d83a"/>
<circle cx="115.4" cy="99.3" r="2.05" fill="#dbe21f"/>
<circle cx="115.5" cy="101.2" r="2.05" fill="#dbe21f"/>
<circle cx="114.3" cy="104.0" r="2.4" fill="#2d8a8c"/>
<circle cx="126.4" cy="98.2" r="2.05" fill="#dbe21f"/>
<circle cx="126.4" cy="99.6" r="2.05" fill="#dbe21f"/>
<circle cx="126.5" cy="101.8" r="2.05" fill="#dbe21f"/>
<circle cx="125.7" cy="116.2" r="2.4" fill="#5fc66a"/>
<circle cx="128.9" cy="107.3" r="2.4" fill="#2d8a8c"/>
<circle cx="128.5" cy="113.7" r="2.4" fill="#2fae86"/>
<circle cx="137.3" cy="96.3" r="2.05" fill="#dbe21f"/>
<circle cx="137.4" cy="99.0" r="2.05" fill="#dbe21f"/>
<circle cx="139.1" cy="107.9" r="2.4" fill="#a6d83a"/>
<circle cx="136.1" cy="109.2" r="2.4" fill="#a6d83a"/>
<circle cx="136.0" cy="113.6" r="2.4" fill="#5fc66a"/>
<circle cx="148.2" cy="94.4" r="2.05" fill="#dbe21f"/>
<circle cx="148.2" cy="97.3" r="2.05" fill="#dbe21f"/>
<circle cx="148.3" cy="98.7" r="2.05" fill="#dbe21f"/>
<circle cx="148.4" cy="101.1" r="2.4" fill="#2fae86"/>
<circle cx="149.1" cy="113.0" r="2.4" fill="#2fae86"/>
<circle cx="146.9" cy="110.1" r="2.4" fill="#5fc66a"/>
<circle cx="159.0" cy="89.4" r="2.05" fill="#c2de2b"/>
<circle cx="159.0" cy="91.7" r="2.05" fill="#c2de2b"/>
<circle cx="159.1" cy="93.8" r="2.05" fill="#c2de2b"/>
<circle cx="161.1" cy="94.5" r="2.1" fill="#a6d83a"/>
<circle cx="158.7" cy="104.5" r="2.4" fill="#a6d83a"/>
<circle cx="158.8" cy="102.9" r="2.4" fill="#a6d83a"/>
<circle cx="169.8" cy="90.2" r="2.05" fill="#dbe21f"/>
<circle cx="169.9" cy="92.5" r="2.05" fill="#dbe21f"/>
<circle cx="168.0" cy="101.0" r="2.1" fill="#a6d83a"/>
<circle cx="168.3" cy="104.5" r="2.4" fill="#5fc66a"/>
<circle cx="169.2" cy="107.3" r="2.4" fill="#5fc66a"/>
<circle cx="171.4" cy="102.2" r="2.4" fill="#2fae86"/>
<circle cx="180.6" cy="88.1" r="2.05" fill="#dbe21f"/>
<circle cx="180.6" cy="89.9" r="2.05" fill="#dbe21f"/>
<circle cx="180.6" cy="91.9" r="2.05" fill="#dbe21f"/>
<circle cx="180.6" cy="93.5" r="2.05" fill="#dbe21f"/>
<circle cx="178.0" cy="95.9" r="2.1" fill="#a6d83a"/>
<circle cx="180.1" cy="101.7" r="2.4" fill="#2fae86"/>
<circle cx="191.4" cy="83.5" r="2.05" fill="#c2de2b"/>
<circle cx="191.4" cy="86.1" r="2.05" fill="#c2de2b"/>
<circle cx="191.3" cy="87.8" r="2.05" fill="#c2de2b"/>
<circle cx="191.3" cy="89.6" r="2.05" fill="#c2de2b"/>
<circle cx="189.3" cy="90.5" r="2.1" fill="#5fc66a"/>
<circle cx="190.7" cy="91.7" r="2.4" fill="#2fae86"/>
<circle cx="202.1" cy="81.1" r="2.05" fill="#a6d83a"/>
<circle cx="202.1" cy="84.0" r="2.05" fill="#a6d83a"/>
<circle cx="202.0" cy="85.6" r="2.05" fill="#a6d83a"/>
<circle cx="200.9" cy="91.4" r="2.1" fill="#a6d83a"/>
<circle cx="203.8" cy="90.0" r="2.4" fill="#2d8a8c"/>
<circle cx="212.8" cy="80.3" r="2.05" fill="#dbe21f"/>
<circle cx="212.7" cy="82.6" r="2.05" fill="#dbe21f"/>
<circle cx="214.0" cy="90.8" r="2.1" fill="#a6d83a"/>
<circle cx="211.8" cy="85.1" r="2.4" fill="#2fae86"/>
<circle cx="223.4" cy="78.5" r="2.05" fill="#dbe21f"/>
<circle cx="223.3" cy="80.9" r="2.05" fill="#dbe21f"/>
<circle cx="97.1" cy="110.3" r="2.05" fill="#c2de2b"/>
<circle cx="97.2" cy="111.5" r="2.05" fill="#c2de2b"/>
<circle cx="97.3" cy="113.9" r="2.05" fill="#c2de2b"/>
<circle cx="97.3" cy="115.8" r="2.05" fill="#c2de2b"/>
<circle cx="97.6" cy="130.4" r="2.4" fill="#2fae86"/>
<circle cx="98.1" cy="117.1" r="2.4" fill="#2fae86"/>
<circle cx="108.2" cy="106.6" r="2.05" fill="#dbe21f"/>
<circle cx="108.2" cy="108.9" r="2.05" fill="#dbe21f"/>
<circle cx="109.9" cy="126.4" r="2.4" fill="#2fae86"/>
<circle cx="108.2" cy="117.9" r="2.4" fill="#5fc66a"/>
<circle cx="109.0" cy="113.6" r="2.4" fill="#5fc66a"/>
<circle cx="119.2" cy="104.8" r="2.05" fill="#a6d83a"/>
<circle cx="119.3" cy="106.4" r="2.05" fill="#a6d83a"/>
<circle cx="120.5" cy="111.0" r="2.4" fill="#a6d83a"/>
<circle cx="120.1" cy="118.9" r="2.4" fill="#2fae86"/>
<circle cx="121.5" cy="109.4" r="2.4" fill="#2fae86"/>
<circle cx="130.3" cy="105.4" r="2.05" fill="#dbe21f"/>
<circle cx="130.4" cy="107.4" r="2.05" fill="#dbe21f"/>
<circle cx="130.4" cy="108.8" r="2.05" fill="#dbe21f"/>
<circle cx="128.0" cy="118.8" r="2.4" fill="#5fc66a"/>
<circle cx="132.7" cy="110.5" r="2.4" fill="#a6d83a"/>
<circle cx="133.1" cy="124.2" r="2.4" fill="#2fae86"/>
<circle cx="141.2" cy="99.8" r="2.05" fill="#a6d83a"/>
<circle cx="141.3" cy="102.1" r="2.05" fill="#a6d83a"/>
<circle cx="141.3" cy="103.5" r="2.05" fill="#a6d83a"/>
<circle cx="141.3" cy="105.9" r="2.05" fill="#a6d83a"/>
<circle cx="144.7" cy="105.8" r="2.1" fill="#5fc66a"/>
<circle cx="139.8" cy="107.8" r="2.4" fill="#2fae86"/>
<circle cx="140.9" cy="118.4" r="2.4" fill="#a6d83a"/>
<circle cx="141.2" cy="104.4" r="2.4" fill="#5fc66a"/>
<circle cx="152.2" cy="100.0" r="2.05" fill="#dbe21f"/>
<circle cx="152.2" cy="102.5" r="2.05" fill="#dbe21f"/>
<circle cx="154.6" cy="114.9" r="2.4" fill="#2fae86"/>
<circle cx="149.8" cy="112.7" r="2.4" fill="#5fc66a"/>
<circle cx="154.6" cy="119.2" r="2.4" fill="#2fae86"/>
<circle cx="163.1" cy="98.2" r="2.05" fill="#a6d83a"/>
<circle cx="163.1" cy="99.5" r="2.05" fill="#a6d83a"/>
<circle cx="163.1" cy="101.9" r="2.05" fill="#a6d83a"/>
<circle cx="163.1" cy="103.5" r="2.05" fill="#a6d83a"/>
<circle cx="166.4" cy="107.3" r="2.1" fill="#5fc66a"/>
<circle cx="164.6" cy="111.9" r="2.4" fill="#2d8a8c"/>
<circle cx="162.1" cy="103.5" r="2.4" fill="#2fae86"/>
<circle cx="162.4" cy="109.9" r="2.4" fill="#a6d83a"/>
<circle cx="173.9" cy="94.6" r="2.05" fill="#dbe21f"/>
<circle cx="173.9" cy="97.0" r="2.05" fill="#dbe21f"/>
<circle cx="173.9" cy="99.0" r="2.05" fill="#dbe21f"/>
<circle cx="174.0" cy="101.0" r="2.05" fill="#dbe21f"/>
<circle cx="173.7" cy="102.7" r="2.1" fill="#a6d83a"/>
<circle cx="175.1" cy="111.0" r="2.4" fill="#2fae86"/>
<circle cx="175.7" cy="106.6" r="2.4" fill="#2d8a8c"/>
<circle cx="184.8" cy="93.8" r="2.05" fill="#5fc66a"/>
<circle cx="184.8" cy="95.5" r="2.05" fill="#5fc66a"/>
<circle cx="184.9" cy="105.9" r="2.4" fill="#2fae86"/>
<circle cx="195.6" cy="92.2" r="2.05" fill="#a6d83a"/>
<circle cx="195.5" cy="94.0" r="2.05" fill="#a6d83a"/>
<circle cx="195.5" cy="96.1" r="2.05" fill="#a6d83a"/>
<circle cx="206.3" cy="90.8" r="2.05" fill="#a6d83a"/>
<circle cx="206.3" cy="92.0" r="2.05" fill="#a6d83a"/>
<circle cx="206.2" cy="94.5" r="2.05" fill="#a6d83a"/>
<circle cx="202.1" cy="98.5" r="2.1" fill="#5fc66a"/>
<circle cx="206.3" cy="99.5" r="2.4" fill="#a6d83a"/>
<circle cx="217.1" cy="85.7" r="2.05" fill="#dbe21f"/>
<circle cx="217.0" cy="87.7" r="2.05" fill="#dbe21f"/>
<circle cx="217.0" cy="89.8" r="2.05" fill="#dbe21f"/>
<circle cx="216.9" cy="99.0" r="2.4" fill="#2d8a8c"/>
<circle cx="223.9" cy="94.9" r="2.1" fill="#a6d83a"/>
<circle cx="178.1" cy="101.9" r="2.05" fill="#5fc66a"/>
<circle cx="178.1" cy="103.6" r="2.05" fill="#5fc66a"/>
<circle cx="178.1" cy="105.9" r="2.05" fill="#5fc66a"/>
<circle cx="178.1" cy="107.7" r="2.05" fill="#5fc66a"/>
<circle cx="178.1" cy="108.9" r="2.4" fill="#2fae86"/>
<circle cx="176.3" cy="119.1" r="2.4" fill="#2fae86"/>
<circle cx="180.1" cy="113.7" r="2.4" fill="#2fae86"/>
<circle cx="199.8" cy="97.3" r="2.05" fill="#dbe21f"/>
<circle cx="199.8" cy="99.2" r="2.05" fill="#dbe21f"/>
<circle cx="210.6" cy="94.2" r="2.05" fill="#a6d83a"/>
<circle cx="210.6" cy="96.1" r="2.05" fill="#a6d83a"/>
<circle cx="210.6" cy="97.6" r="2.05" fill="#a6d83a"/>
<circle cx="221.4" cy="93.8" r="2.05" fill="#dbe21f"/>
<circle cx="221.3" cy="95.2" r="2.05" fill="#dbe21f"/>
<circle cx="221.3" cy="97.6" r="2.05" fill="#dbe21f"/>
<circle cx="220.8" cy="99.9" r="2.4" fill="#5fc66a"/>
<circle cx="228.0" cy="66.5" r="2.8" fill="#e2e41c"/>
<circle cx="237.1" cy="68.0" r="2.8" fill="#e2e41c"/>
<circle cx="243.2" cy="66.5" r="2.8" fill="#e2e41c"/>
<circle cx="252.3" cy="64.3" r="2.1" fill="#dbe21f"/>
<circle cx="252.3" cy="66.5" r="2.1" fill="#dbe21f"/>
<circle cx="252.3" cy="68.7" r="2.1" fill="#dbe21f"/>
<circle cx="231.0" cy="72.6" r="2.8" fill="#e2e41c"/>
<circle cx="244.7" cy="74.0" r="2.8" fill="#e2e41c"/>
<circle cx="238.6" cy="81.7" r="2.8" fill="#e2e41c"/>
<circle cx="250.8" cy="76.4" r="2.1" fill="#dbe21f"/>
<circle cx="250.8" cy="78.6" r="2.1" fill="#dbe21f"/>
<circle cx="250.8" cy="80.8" r="2.1" fill="#dbe21f"/>
<circle cx="252.3" cy="81.7" r="2.3" fill="#dbe21f"/>
<circle cx="256.8" cy="71.8" r="2.3" fill="#a6d83a"/>
<circle cx="256.8" cy="80.2" r="2.3" fill="#2fae86"/>
<circle cx="259.8" cy="84.7" r="2.3" fill="#5fc66a"/>
<circle cx="253.8" cy="84.7" r="2.3" fill="#2fae86"/>
<circle cx="244.7" cy="87.7" r="2.3" fill="#5fc66a"/>
<circle cx="240.2" cy="87.7" r="2.3" fill="#2fae86"/>
<circle cx="229.5" cy="86.2" r="2.3" fill="#2fae86"/>
<circle cx="229.5" cy="90.8" r="2.3" fill="#5fc66a"/>
<circle cx="235.6" cy="81.7" r="2.3" fill="#2fae86"/>
<circle cx="225.0" cy="77.0" r="2.3" fill="#2fae86"/>
<circle cx="258.3" cy="93.0" r="2.3" fill="#2fae86"/>
<circle cx="249.2" cy="94.5" r="2.3" fill="#5fc66a"/>
<circle cx="240.9" cy="95.3" r="2.3" fill="#2d8a8c"/>
<circle cx="234.1" cy="95.3" r="2.3" fill="#5fc66a"/>
<circle cx="227.3" cy="97.6" r="2.3" fill="#5fc66a"/>
<circle cx="255.3" cy="97.6" r="2.3" fill="#2fae86"/>
<circle cx="261.4" cy="101.4" r="2.3" fill="#2fae86"/>
<circle cx="265.9" cy="103.6" r="2.3" fill="#5fc66a"/>
<circle cx="270.5" cy="105.9" r="2.3" fill="#2fae86"/>
<circle cx="259.8" cy="105.9" r="2.3" fill="#a6d83a"/>
<circle cx="250.8" cy="105.2" r="2.3" fill="#dbe21f"/>
<circle cx="244.7" cy="101.4" r="2.3" fill="#a6d83a"/>
<circle cx="240.2" cy="103.7" r="2.1" fill="#dbe21f"/>
<circle cx="240.2" cy="105.9" r="2.1" fill="#dbe21f"/>
<circle cx="240.2" cy="108.1" r="2.1" fill="#dbe21f"/>
<circle cx="232.6" cy="102.1" r="2.3" fill="#a6d83a"/>
<circle cx="228.0" cy="104.4" r="2.3" fill="#5fc66a"/>
<circle cx="236.1" cy="111.1" r="2.3" fill="#a6d83a"/>
<circle cx="240.6" cy="106.5" r="2.3" fill="#dbe21f"/>
<circle cx="246.7" cy="112.6" r="2.2" fill="#dbe21f"/>
<circle cx="251.2" cy="106.5" r="2.3" fill="#a6d83a"/>
<circle cx="261.8" cy="106.5" r="2.3" fill="#5fc66a"/>
<circle cx="269.4" cy="106.5" r="2.3" fill="#2fae86"/>
<circle cx="233.0" cy="117.0" r="2.3" fill="#5fc66a"/>
<circle cx="239.0" cy="118.0" r="2.3" fill="#a6d83a"/>
<circle cx="234.5" cy="122.4" r="2.3" fill="#5fc66a"/>
<circle cx="239.0" cy="123.2" r="2.3" fill="#5fc66a"/>
<circle cx="245.2" cy="120.9" r="1.95" fill="#5a4b9b"/>
<circle cx="245.9" cy="127.0" r="1.95" fill="#5a4b9b"/>
<circle cx="251.2" cy="117.9" r="2.3" fill="#5fc66a"/>
<circle cx="252.7" cy="122.4" r="2.3" fill="#2fae86"/>
<circle cx="255.8" cy="116.4" r="2.1" fill="#dbe21f"/>
<circle cx="255.8" cy="118.6" r="2.1" fill="#dbe21f"/>
<circle cx="255.8" cy="120.8" r="2.1" fill="#dbe21f"/>
<circle cx="256.5" cy="121.7" r="2.3" fill="#dbe21f"/>
<circle cx="258.8" cy="117.1" r="2.3" fill="#2fae86"/>
<circle cx="260.3" cy="122.4" r="2.3" fill="#5fc66a"/>
<circle cx="266.4" cy="119.5" r="2.1" fill="#dbe21f"/>
<circle cx="266.4" cy="121.7" r="2.1" fill="#dbe21f"/>
<circle cx="266.4" cy="123.9" r="2.1" fill="#dbe21f"/>
<circle cx="270.9" cy="116.4" r="2.1" fill="#a6d83a"/>
<circle cx="270.9" cy="118.6" r="2.1" fill="#a6d83a"/>
<circle cx="270.9" cy="120.8" r="2.1" fill="#a6d83a"/>
<circle cx="274.7" cy="120.2" r="2.3" fill="#2fae86"/>
<circle cx="276.2" cy="123.2" r="2.3" fill="#2fae86"/>
<circle cx="261.8" cy="127.0" r="2.3" fill="#2fae86"/>
<circle cx="266.4" cy="127.0" r="2.3" fill="#5fc66a"/>
<circle cx="236.1" cy="129.2" r="2.3" fill="#5fc66a"/>
<circle cx="240.6" cy="129.2" r="2.3" fill="#2fae86"/>
<circle cx="236.1" cy="132.3" r="2.3" fill="#5fc66a"/>
<circle cx="246.7" cy="133.0" r="2.3" fill="#2fae86"/>
<circle cx="251.2" cy="132.3" r="1.95" fill="#5a4b9b"/>
<circle cx="241.4" cy="134.5" r="2.3" fill="#2fae86"/>
<circle cx="248.2" cy="136.8" r="2.3" fill="#a6d83a"/>
<circle cx="251.2" cy="136.8" r="2.3" fill="#2fae86"/>
<circle cx="255.8" cy="136.8" r="1.95" fill="#5a4b9b"/>
<circle cx="257.3" cy="136.0" r="1.95" fill="#5a4b9b"/>
<circle cx="261.8" cy="135.3" r="2.3" fill="#2fae86"/>
<circle cx="260.3" cy="131.5" r="2.3" fill="#2fae86"/>
<circle cx="267.9" cy="135.3" r="2.3" fill="#2fae86"/>
<circle cx="270.2" cy="130.0" r="2.3" fill="#5fc66a"/>
<circle cx="273.9" cy="132.3" r="2.3" fill="#2fae86"/>
<circle cx="232.3" cy="136.8" r="2.3" fill="#5fc66a"/>
<circle cx="265.6" cy="141.4" r="2.3" fill="#2fae86"/>
<circle cx="273.9" cy="140.6" r="2.3" fill="#2fae86"/>
<circle cx="280.0" cy="131.6" r="2.1" fill="#2fae86"/>
<circle cx="280.0" cy="133.8" r="2.1" fill="#2fae86"/>
<circle cx="280.0" cy="136.0" r="2.1" fill="#2fae86"/>
<circle cx="286.0" cy="133.8" r="2.1" fill="#2fae86"/>
<circle cx="286.0" cy="136.0" r="2.1" fill="#2fae86"/>
<circle cx="286.0" cy="138.2" r="2.1" fill="#2fae86"/>
<circle cx="255.8" cy="144.4" r="1.95" fill="#5a4b9b"/>
<circle cx="263.3" cy="144.4" r="2.3" fill="#2d8a8c"/>
<circle cx="265.2" cy="142.0" r="2.3" fill="#5fc66a"/>
<circle cx="269.4" cy="145.2" r="2.3" fill="#2fae86"/>
<circle cx="273.7" cy="141.3" r="2.3" fill="#2fae86"/>
<circle cx="286.0" cy="144.4" r="2.3" fill="#5fc66a"/>
<circle cx="280.0" cy="149.0" r="2.3" fill="#2fae86"/>
<circle cx="261.4" cy="156.9" r="1.95" fill="#5a4b9b"/>
<circle cx="267.4" cy="155.2" r="1.95" fill="#5a4b9b"/>
<circle cx="273.3" cy="162.8" r="1.95" fill="#5a4b9b"/>
<circle cx="279.6" cy="165.0" r="1.95" fill="#5a4b9b"/>
<circle cx="284.3" cy="183.5" r="2.2" fill="#5a4b9b"/>
<circle cx="192.4" cy="102.6" r="2.1" fill="#dbe21f"/>
<circle cx="192.4" cy="104.8" r="2.1" fill="#dbe21f"/>
<circle cx="192.4" cy="107.0" r="2.1" fill="#dbe21f"/>
<circle cx="208.6" cy="104.6" r="2.1" fill="#dbe21f"/>
<circle cx="208.6" cy="106.8" r="2.1" fill="#dbe21f"/>
<circle cx="208.6" cy="109.0" r="2.1" fill="#dbe21f"/>
<circle cx="203.2" cy="114.1" r="2.1" fill="#dbe21f"/>
<circle cx="203.2" cy="116.3" r="2.1" fill="#dbe21f"/>
<circle cx="203.2" cy="118.5" r="2.1" fill="#dbe21f"/>
<circle cx="224.8" cy="112.8" r="2.1" fill="#dbe21f"/>
<circle cx="224.8" cy="115.0" r="2.1" fill="#dbe21f"/>
<circle cx="224.8" cy="117.2" r="2.1" fill="#dbe21f"/>
<circle cx="219.4" cy="103.3" r="2.1" fill="#dbe21f"/>
<circle cx="219.4" cy="105.5" r="2.1" fill="#dbe21f"/>
<circle cx="219.4" cy="107.7" r="2.1" fill="#dbe21f"/>
<circle cx="187.0" cy="103.5" r="2.3" fill="#a6d83a"/>
<circle cx="197.8" cy="103.5" r="2.3" fill="#a6d83a"/>
<circle cx="208.0" cy="100.0" r="2.3" fill="#a6d83a"/>
<circle cx="213.3" cy="108.2" r="2.3" fill="#a6d83a"/>
<circle cx="219.4" cy="113.6" r="2.3" fill="#a6d83a"/>
<circle cx="208.6" cy="114.3" r="2.3" fill="#a6d83a"/>
<circle cx="202.5" cy="124.4" r="2.3" fill="#a6d83a"/>
<circle cx="213.3" cy="124.4" r="2.3" fill="#a6d83a"/>
<circle cx="225.4" cy="107.5" r="2.3" fill="#a6d83a"/>
<circle cx="185.7" cy="108.9" r="2.3" fill="#2fae86"/>
<circle cx="192.4" cy="110.9" r="2.3" fill="#2fae86"/>
<circle cx="224.1" cy="110.9" r="2.3" fill="#2fae86"/>
<circle cx="224.8" cy="123.0" r="2.3" fill="#2fae86"/>
<circle cx="230.1" cy="117.0" r="2.3" fill="#2fae86"/>
<circle cx="232.8" cy="126.4" r="2.3" fill="#2fae86"/>
<circle cx="228.0" cy="102.8" r="2.3" fill="#2fae86"/>
<circle cx="214.0" cy="115.0" r="2.3" fill="#5fc66a"/>
</g>
<circle cx="73.5" cy="40.9" r="8.8" fill="#000"/><g transform="translate(73.80,40.90) rotate(0)"><text x="0" y="5.22" text-anchor="middle" font-size="14.5" fill="#fff" stroke="#fff" stroke-width="0.3" font-family="Liberation Sans, sans-serif" font-weight="bold" >C</text></g><circle cx="217.3" cy="24.7" r="8.8" fill="#000"/><g transform="translate(217.60,24.70) rotate(0)"><text x="0" y="5.22" text-anchor="middle" font-size="14.5" fill="#fff" stroke="#fff" stroke-width="0.3" font-family="Liberation Sans, sans-serif" font-weight="bold" font-style="italic">A</text></g><circle cx="116.9" cy="139.2" r="8.8" fill="#000"/><g transform="translate(117.20,139.20) rotate(0)"><text x="0" y="5.22" text-anchor="middle" font-size="14.5" fill="#fff" stroke="#fff" stroke-width="0.3" font-family="Liberation Sans, sans-serif" font-weight="bold" font-style="italic">B</text></g>
<line x1="452.07" y1="24" x2="452.07" y2="230.4" stroke="#e3e3e3" stroke-width="1"/><line x1="513.65" y1="24" x2="513.65" y2="230.4" stroke="#e3e3e3" stroke-width="1"/><line x1="575.22" y1="24" x2="575.22" y2="230.4" stroke="#e3e3e3" stroke-width="1"/><line x1="390.5" y1="127.20" x2="636.8" y2="127.20" stroke="#e3e3e3" stroke-width="1"/><polyline points="390.5,24.3 637.3,24.3 637.3,230.4" stroke="#474747" stroke-width="1.25" fill="none"/><polyline points="390.5,23.3 390.5,230.4 637.5,230.4" stroke="#111" stroke-width="2" fill="none"/><circle cx="402.81" cy="158.16" r="3.8" fill="#4472C4"/><circle cx="415.13" cy="127.20" r="3.8" fill="#4472C4"/><circle cx="427.44" cy="75.60" r="3.8" fill="#4472C4"/><circle cx="439.76" cy="44.64" r="3.8" fill="#4472C4"/><circle cx="452.07" cy="34.32" r="3.8" fill="#4472C4"/><circle cx="464.39" cy="65.28" r="3.8" fill="#4472C4"/><circle cx="476.70" cy="96.24" r="3.8" fill="#4472C4"/><circle cx="489.02" cy="106.56" r="3.8" fill="#4472C4"/><circle cx="501.33" cy="106.56" r="3.8" fill="#4472C4"/><circle cx="513.65" cy="127.20" r="3.8" fill="#4472C4"/><circle cx="525.96" cy="158.16" r="3.8" fill="#4472C4"/><circle cx="538.28" cy="167.45" r="3.8" fill="#4472C4"/><circle cx="550.60" cy="171.58" r="3.8" fill="#4472C4"/><circle cx="562.91" cy="187.06" r="3.8" fill="#4472C4"/><circle cx="575.22" cy="200.47" r="3.8" fill="#4472C4"/><circle cx="587.54" cy="220.08" r="3.8" fill="#4472C4"/><circle cx="599.86" cy="218.02" r="3.8" fill="#4472C4"/><circle cx="612.17" cy="226.27" r="3.8" fill="#4472C4"/><circle cx="624.48" cy="220.08" r="3.8" fill="#4472C4"/>
<path d="M612.5,295.2 Q610.8,296 610.3,297.5 M630.8,295.2 Q632.5,296 633,297.5" stroke="#333" stroke-width="1.1" fill="none"/>
<g transform="translate(9.30,22.60) rotate(0)"><text x="0" y="5.58" text-anchor="middle" font-size="15.5" fill="#111" stroke="#111" stroke-width="0.8" font-family="Liberation Sans, sans-serif" font-weight="bold" transform="scale(0.88,1)">(a)</text></g>
<g transform="translate(15.50,82.30) rotate(-96.5)"><text x="0" y="5.15" text-anchor="middle" font-size="14.3" fill="#111" stroke="#111" stroke-width="0.45" font-family="Liberation Sans, sans-serif" font-weight="bold" >Accuracy (%)</text></g>
<g transform="translate(37.20,43.20) rotate(-4)"><text x="0" y="4.32" text-anchor="middle" font-size="12" fill="#111" stroke="#111" stroke-width="0.45" font-family="Liberation Sans, sans-serif" font-weight="bold" >80</text></g>
<g transform="translate(40.40,79.50) rotate(-4)"><text x="0" y="4.32" text-anchor="middle" font-size="12" fill="#111" stroke="#111" stroke-width="0.45" font-family="Liberation Sans, sans-serif" font-weight="bold" >70</text></g>
<g transform="translate(41.70,116.90) rotate(-4)"><text x="0" y="4.32" text-anchor="middle" font-size="12" fill="#111" stroke="#111" stroke-width="0.45" font-family="Liberation Sans, sans-serif" font-weight="bold" >60</text></g>
<g transform="translate(44.80,138.90) rotate(-11)"><text x="0" y="4.32" text-anchor="middle" font-size="12" fill="#111" stroke="#111" stroke-width="0.45" font-family="Liberation Sans, sans-serif" font-weight="bold" >4k</text></g>
<g transform="translate(62.80,173.50) rotate(-11)"><text x="0" y="4.32" text-anchor="middle" font-size="12" fill="#111" stroke="#111" stroke-width="0.45" font-family="Liberation Sans, sans-serif" font-weight="bold" >3k</text></g>
<g transform="translate(79.50,204.50) rotate(-11)"><text x="0" y="4.32" text-anchor="middle" font-size="12" fill="#111" stroke="#111" stroke-width="0.45" font-family="Liberation Sans, sans-serif" font-weight="bold" >2k</text></g>
<g transform="translate(94.90,234.30) rotate(-11)"><text x="0" y="4.32" text-anchor="middle" font-size="12" fill="#111" stroke="#111" stroke-width="0.45" font-family="Liberation Sans, sans-serif" font-weight="bold" >1k</text></g>
<g transform="translate(155.30,245.50) rotate(-11)"><text x="0" y="4.32" text-anchor="middle" font-size="12" fill="#111" stroke="#111" stroke-width="0.45" font-family="Liberation Sans, sans-serif" font-weight="bold" >3k</text></g>
<g transform="translate(213.80,235.00) rotate(-11)"><text x="0" y="4.32" text-anchor="middle" font-size="12" fill="#111" stroke="#111" stroke-width="0.45" font-family="Liberation Sans, sans-serif" font-weight="bold" >2k</text></g>
<g transform="translate(263.00,223.00) rotate(-11)"><text x="0" y="4.32" text-anchor="middle" font-size="12" fill="#111" stroke="#111" stroke-width="0.45" font-family="Liberation Sans, sans-serif" font-weight="bold" >1k</text></g>
<g transform="translate(232.00,243.80) rotate(-12.3)"><text x="0" y="5.18" text-anchor="middle" font-size="14.4" fill="#111" stroke="#111" stroke-width="0.45" font-family="Liberation Sans, sans-serif" font-weight="bold" >Physical Dimensionality (<tspan font-style="italic">D</tspan>)</text></g>
<g transform="translate(52.30,194.40) rotate(61)"><text x="0" y="4.97" text-anchor="middle" font-size="13.8" fill="#111" stroke="#111" stroke-width="0.45" font-family="Liberation Sans, sans-serif" font-weight="bold" >Effective</text></g>
<g transform="translate(37.00,201.20) rotate(64.5)"><text x="0" y="5.22" text-anchor="middle" font-size="14.5" fill="#111" stroke="#111" stroke-width="0.45" font-family="Liberation Sans, sans-serif" font-weight="bold" >Dimensionality (<tspan font-style="italic">D</tspan><tspan dy="-3" font-size="12">*</tspan><tspan dy="3">)</tspan></text></g>
<g transform="translate(328.30,22.40) rotate(0)"><text x="0" y="5.58" text-anchor="middle" font-size="15.5" fill="#111" stroke="#111" stroke-width="0.8" font-family="Liberation Sans, sans-serif" font-weight="bold" transform="scale(0.9,1)">(b)</text></g>
<g transform="translate(379.30,23.70) rotate(0)"><text x="0" y="4.32" text-anchor="end" font-size="12" fill="#111" stroke="#111" stroke-width="0.45" font-family="Liberation Sans, sans-serif" font-weight="bold" >80</text></g>
<g transform="translate(379.30,127.20) rotate(0)"><text x="0" y="4.32" text-anchor="end" font-size="12" fill="#111" stroke="#111" stroke-width="0.45" font-family="Liberation Sans, sans-serif" font-weight="bold" >70</text></g>
<g transform="translate(379.30,230.30) rotate(0)"><text x="0" y="4.32" text-anchor="end" font-size="12" fill="#111" stroke="#111" stroke-width="0.45" font-family="Liberation Sans, sans-serif" font-weight="bold" >60</text></g>
<g transform="translate(390.50,245.70) rotate(0)"><text x="0" y="4.32" text-anchor="middle" font-size="12" fill="#111" stroke="#111" stroke-width="0.45" font-family="Liberation Sans, sans-serif" font-weight="bold" >0</text></g>
<g transform="translate(452.07,245.70) rotate(0)"><text x="0" y="4.32" text-anchor="middle" font-size="12" fill="#111" stroke="#111" stroke-width="0.45" font-family="Liberation Sans, sans-serif" font-weight="bold" >0.25</text></g>
<g transform="translate(513.65,245.70) rotate(0)"><text x="0" y="4.32" text-anchor="middle" font-size="12" fill="#111" stroke="#111" stroke-width="0.45" font-family="Liberation Sans, sans-serif" font-weight="bold" >0.5</text></g>
<g transform="translate(575.22,245.70) rotate(0)"><text x="0" y="4.32" text-anchor="middle" font-size="12" fill="#111" stroke="#111" stroke-width="0.45" font-family="Liberation Sans, sans-serif" font-weight="bold" >0.75</text></g>
<g transform="translate(636.80,245.70) rotate(0)"><text x="0" y="4.32" text-anchor="middle" font-size="12" fill="#111" stroke="#111" stroke-width="0.45" font-family="Liberation Sans, sans-serif" font-weight="bold" >1</text></g>
<g transform="translate(520.60,262.20) rotate(0)"><text x="0" y="5.18" text-anchor="middle" font-size="14.4" fill="#111" stroke="#111" stroke-width="0.45" font-family="Liberation Sans, sans-serif" font-weight="bold" >Regeneration Rate</text></g>
<g transform="translate(350.30,144.00) rotate(-90)"><text x="0" y="5.04" text-anchor="middle" font-size="14" fill="#111" stroke="#111" stroke-width="0.45" font-family="Liberation Sans, sans-serif" font-weight="bold" >Accuracy (%)</text></g>
</svg>
</body></html>
